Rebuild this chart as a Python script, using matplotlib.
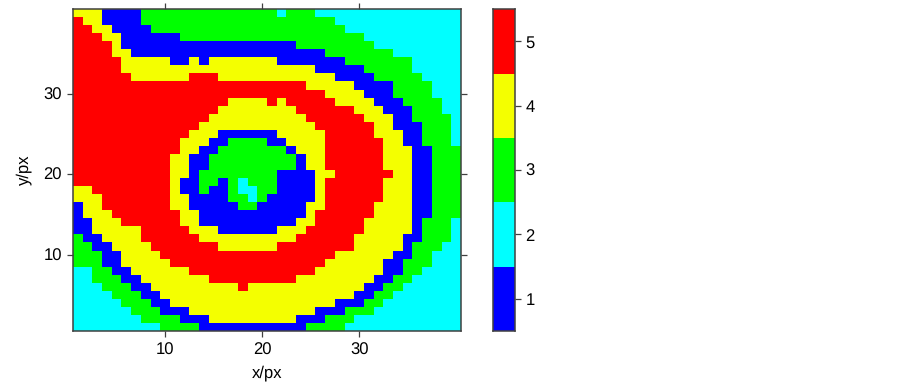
import numpy as np
import matplotlib
matplotlib.use("Agg")
import matplotlib.pyplot as plt
from matplotlib.colors import ListedColormap, BoundaryNorm

# class map, one string per row from y=40 down to y=1
# each token is <class letter><last column of the run>
letters = {"B": 1, "C": 2, "G": 3, "Y": 4, "R": 5}
rows = [
    "Y3 B7 G21 C22 G25 C40",
    "R1 Y3 B7 G27 C40",
    "R2 Y4 B8 G28 C40",
    "R3 Y5 B11 G30 C40",
    "R4 Y5 B23 G31 C40",
    "R4 Y6 B26 G33 C40",
    "R5 Y10 B12 Y13 B14 Y21 B28 G35 C40",
    "R5 Y25 B30 G35 C40",
    "R6 Y12 R15 Y27 B31 G36 C40",
    "R24 Y29 B33 G37 C40",
    "R26 Y30 B33 G37 C40",
    "R16 Y20 R21 Y22 R27 Y31 B34 G38 C40",
    "R15 Y23 R29 Y32 B35 G38 C40",
    "R14 Y24 R30 Y33 B35 G39 C40",
    "R13 Y25 R31 Y33 B36 G39 C40",
    "R12 Y15 B21 Y26 R31 Y34 B36 G39 C40",
    "R11 Y14 B16 G20 B22 Y26 R32 Y34 B36 G39 C40",
    "R11 Y13 B15 G22 B23 Y26 R32 Y35 B37 G40",
    "R10 Y12 B14 G23 B24 Y26 R32 Y35 B37 G40",
    "R10 Y12 B14 G23 B24 Y26 R32 Y35 B37 G40",
    "R10 Y12 B13 G21 B25 Y27 R33 Y35 B37 G40",
    "R10 Y11 B13 G15 B16 G17 C18 G21 B25 Y26 R32 Y35 B37 G40",
    "Y2 R10 Y11 B13 G14 B16 G17 C19 G21 B25 Y26 R32 Y35 B37 G40",
    "Y3 R10 Y12 B16 G18 C19 G20 B25 Y26 R32 Y35 B37 G40",
    "B1 Y3 R10 Y12 B17 G19 B24 Y26 R31 Y35 B37 G40",
    "B1 Y4 R11 Y13 B24 Y25 R31 Y35 B37 G40",
    "B2 Y5 R11 Y13 B23 Y25 R30 Y35 B36 G39 C40",
    "B2 Y7 R12 Y15 B21 Y24 R30 Y35 B36 G39 C40",
    "G1 B3 Y7 R13 Y23 R29 Y34 B36 G39 C40",
    "G2 B4 Y8 R15 Y21 R29 Y34 B35 G38 C40",
    "G3 B5 Y9 R27 Y33 B35 G37 C40",
    "G3 B5 Y10 R26 Y32 B34 G37 C40",
    "C2 G4 B6 Y12 R25 Y32 B34 G36 C40",
    "C2 G5 B7 Y14 R23 Y31 B33 G35 C40",
    "C3 G6 B8 Y17 R18 Y30 B32 G34 C40",
    "C4 G7 B9 Y29 B31 G33 C40",
    "C5 G8 B10 Y27 B30 G32 C40",
    "C6 G9 B12 Y25 B28 G31 C40",
    "C7 G11 B14 Y23 B26 G29 C40",
    "C9 G13 B24 G28 C40",
]
bar_levels = [1, 2, 3, 4, 5]
xy_ticks = [10, 20, 30]
colors = ["#0000ff", "#00ffff", "#00ff00", "#f4ff00", "#ff0000"]


def decode(row):
    out = []
    for token in row.split():
        out += [letters[token[0]]] * (int(token[1:]) - len(out))
    return out


grid = np.array([decode(r) for r in rows[::-1]])

plt.rcParams['font.family'] = ['Liberation Sans', 'DejaVu Sans']
plt.rcParams['font.size'] = 12
plt.rcParams['text.hinting'] = 'none'
W, H = 903, 383
dark = "#404040"


def px_axes(fig, left, top, right, bottom):
    return fig.add_axes([left / W, 1 - bottom / H, (right - left) / W, (bottom - top) / H])


fig = plt.figure(figsize=(W / 100, H / 100), dpi=100)
cmap = ListedColormap(colors)
norm = BoundaryNorm(np.arange(0.5, 6), cmap.N)

ax = px_axes(fig, 73, 9, 461, 331)
ax.imshow(grid, cmap=cmap, norm=norm, origin="lower", aspect="auto", interpolation="nearest",
          extent=(0.5, grid.shape[1] + 0.5, 0.5, grid.shape[0] + 0.5))
ax.set_xticks(xy_ticks)
ax.set_yticks(xy_ticks)
ax.tick_params(direction="out", length=4.5, width=0.9, color=dark, top=True, right=True, pad=3.5)
ax.set_xlabel("x/px", labelpad=5)
ax.set_ylabel("y/px", labelpad=8)

cax = px_axes(fig, 493, 9, 515, 331)
bar = np.array(bar_levels).reshape(-1, 1)
cax.imshow(bar, cmap=cmap, norm=norm, origin="lower", aspect="auto", interpolation="nearest",
           extent=(0, 1, 0.5, 5.5))
cax.set_xticks([])
cax.set_yticks(bar_levels)
cax.yaxis.tick_right()
cax.tick_params(direction="out", length=4, width=0.9, color=dark, pad=3.5)

for a in (ax, cax):
    for s in a.spines.values():
        s.set_color(dark)
        s.set_linewidth(1.1)

fig.savefig("out.png", dpi=100)
